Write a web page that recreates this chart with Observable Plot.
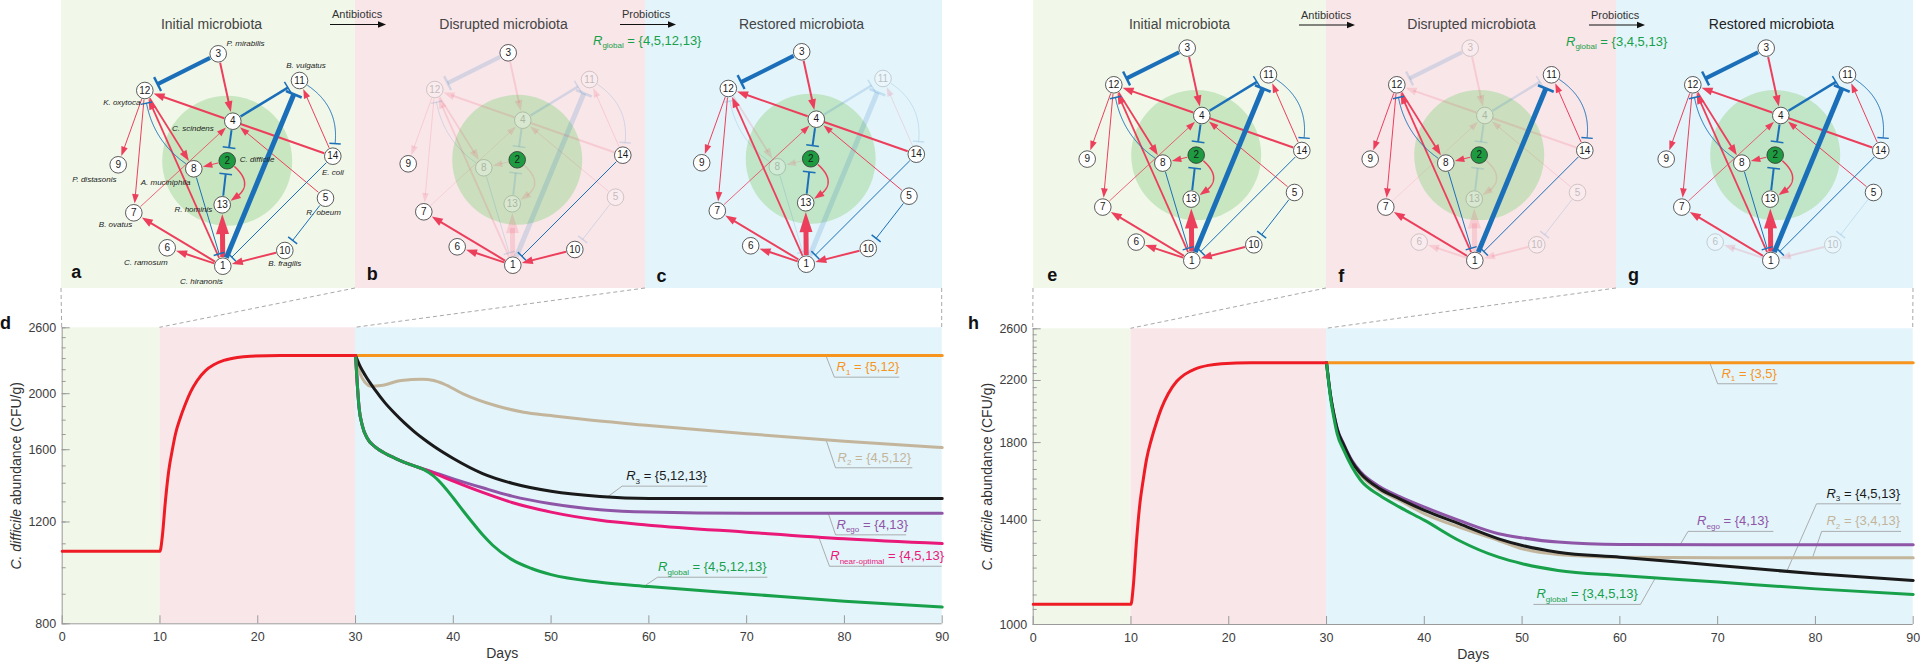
<!DOCTYPE html>
<html>
<head>
<meta charset="utf-8">
<script src="https://cdn.jsdelivr.net/npm/d3@7"></script>
<script src="https://cdn.jsdelivr.net/npm/@observablehq/plot@0.6"></script>
<style>
html,body{margin:0;padding:0;background:#fff;}
#root{position:relative;width:1920px;height:663px;overflow:hidden;}
#root > svg{position:absolute;}
</style>
</head>
<body>
<div id="root"></div>
<script>
// ================= DATA =================
// network nodes (layout coordinates of the interaction network)
const nodeIds = [1,2,3,4,5,6,7,8,9,10,11,12,13,14];
const nodeX   = [161.3,165.7,156.7,171.3,264.0,105.7,72.3,132.3,56.7,223.3,238.0,83.3,160.7,271.3];
const nodeY   = [265.7,160.3,53.3,120.7,197.7,247.3,212.3,168.3,164.3,250.0,80.0,90.0,204.3,155.7];
const speciesNames = ["C. hiranonis","C. difficile","P. mirabilis","C. scindens","R. obeum","C. ramosum",
  "B. ovatus","A. muciniphila","P. distasonis","B. fragilis","B. vulgatus","K. oxytoca","R. hominis","E. coli"];

// network edges
const edgeSource = [3,4,14,12,12,12,1,7,5,14,2,2,1,1,1,10,  3,4,4,13,1,14,8,8,11,5];
const edgeTarget = [4,12,4,9,7,8,12,4,4,11,8,13,13,7,6,1,   12,11,2,2,11,1,1,12,14,10];
const edgeType   = ["promote","promote","plain","promote","promote","promote","promote","promote","promote",
  "promote","promote","promote","promote","promote","promote","promote",
  "inhibit","inhibit","inhibit","inhibit","inhibit","inhibit","inhibit","inhibit","inhibit","inhibit"];
const edgeWeight = [2,2,2,1,1,1.8,1.8,0.8,1,1,1,1.5,5,2,2,2,  4,2.5,2,2,5,1,1,1,1,1];

// scenarios
const panelTitles = ["Initial microbiota","Disrupted microbiota","Restored microbiota"];
const absentLeft  = [[], [4,5,8,11,12,13], [8,11]];
const absentRight = [[], [3,4,5,6,10,13], [6,10]];
const rGlobalLeft = "{4,5,12,13}";
const rGlobalRight = "{3,4,5,13}";

// time course
const xTicks = [0,10,20,30,40,50,60,70,80,90];
const phaseFrom = [0,10,30];
const phaseTo   = [10,30,90];

const dMajor = [800,1200,1600,2000,2600];
const dMinor = d3.range(800,2601,100);
const hMajor = [1000,1400,1800,2200,2600];
const hMinor = d3.range(1000,2601,50);

const redDays = [0,10,10.23,10.56,10.9,11.25,11.59,12.1,12.61,13.12,13.81,14.66,15.5,16.53,17.9,19.26,22.3,30];
const redVals = [1068,1068,1129,1307,1473,1595,1705,1821,1921,2012,2108,2193,2244,2283,2310,2322,2329,2329];

// panel d
const dR1Days = [30,90];
const dR1Vals = [2329,2329];
const dR2Days = [30,30.2,30.5,31,31.6,32.6,34.7,36.8,38,39,41,44.3,47.2,50,53.5,60,70,80,90];
const dR2Vals = [2329,2250,2160,2090,2060,2066,2108,2119,2108,2080,1999,1908,1858,1833,1804,1762,1705,1655,1614];
const dR3Days = [30,30.5,31,32,33,34,35,36,37,38,40,43,46,50,55,60,90];
const dR3Vals = [2329,2225,2150,2030,1930,1850,1780,1720,1668,1622,1545,1455,1400,1356,1328,1318,1317];
const dEgoDays = [30,30.17,30.35,30.7,31.2,32,33,34,35,36,38,40,43,46,50,55,60,70,90];
const dEgoVals = [2329,2090,1900,1760,1675,1618,1578,1548,1522,1500,1462,1425,1375,1330,1290,1260,1248,1242,1242];
const dNearDays = [30,30.17,30.35,30.7,31.2,32,33,34,35,36,38,40,43,46,50,55,60,70,80,90];
const dNearVals = [2329,2090,1900,1760,1675,1618,1578,1548,1522,1500,1458,1412,1350,1297,1248,1208,1185,1152,1122,1101];
const dGlobDays = [30,30.17,30.35,30.7,31.2,32,33,34,35,36,37,38,39,40,41,42,43,44,46,48,50,55,60,70,80,90];
const dGlobVals = [2329,2090,1900,1760,1675,1618,1578,1548,1522,1500,1478,1440,1385,1320,1255,1195,1140,1095,1033,997,973,944,928,901,875,855];

// panel h
const hDays = [30,30.4,30.74,31.09,31.77,32.62,33.47,35.46,37.48,40.03,43.55,47.6,50.02,53.67,60.02,70.05,80.04,90];
const hR1Days = [30,90];
const hR1Vals = [2329,2329];
const hGlobVals = [2329,2084,1954,1852,1755,1662,1595,1517,1461,1400,1312,1243,1217,1191,1172,1147,1122,1102];
const hR3Vals   = [2329,2100,1975,1880,1785,1690,1630,1550,1501,1446,1385,1319,1291,1263,1243,1210,1178,1153];
const hEgoVals  = [2329,2100,1978,1885,1790,1697,1638,1561,1512,1461,1400,1341,1323,1305,1295,1294,1294,1294];
const hR2Vals   = [2329,2098,1970,1875,1778,1685,1622,1542,1493,1430,1370,1312,1277,1254,1243,1241,1241,1241];

// curve labels: text "R|sub|set"
const dLabelText = ["R|1|{5,12}","R|2|{4,5,12}","R|3|{5,12,13}","R|ego|{4,13}","R|near-optimal|{4,5,13}","R|global|{4,5,12,13}"];
const hLabelText = ["R|1|{3,5}","R|3|{4,5,13}","R|ego|{4,13}","R|2|{3,4,13}","R|global|{3,4,5,13}"];

// ================= STYLE / LAYOUT =================
const FONT = "'Liberation Sans', Arial, Helvetica, sans-serif";
const RED = "#ec3f5c", BLUE = "#1b6fb8", NODE_R = 8.3;
const C = {red:"#ee1c25", orange:"#f7941d", beige:"#c3b59b", black:"#1a1a1a", purple:"#8f55a6", pink:"#ea1878", green:"#18a04a"};
const BG = {green:"#f1f8ea", pink:"#f9e6e9", blue:"#e3f4fb"};
const AX = "#9a9a9a";
const curvedEdges = {"2-13": -40, "8-12": -24, "11-14": -32};
const speciesOffsets = { // dx, dy, anchor
  1:[-21.4,15,"middle"], 2:[12.6,-1,"start"], 3:[8.3,-10.6,"start"], 4:[-19,7.6,"end"], 5:[-2,14,"middle"],
  6:[-21.4,14.4,"middle"], 7:[-18.3,12,"middle"], 8:[-3.3,13.4,"end"], 9:[-1.7,14.7,"end"], 10:[0,13.3,"middle"],
  11:[6.5,-15,"middle"], 12:[-4.3,11.7,"end"], 13:[-10,5,"end"], 14:[0,16,"middle"]};

const leftPanels = [
  {left:61,  w:294,   dx:0,    dy:0,    bg:BG.green, titleX:150, letter:"a", lx:14.7, lb:277,   tcol:"#444"},
  {left:355, w:290,   dx:-4,   dy:-1,   bg:BG.pink,  titleX:148, letter:"b", lx:16.7, lb:279,   tcol:"#444"},
  {left:645, w:296.7, dx:-0.5, dy:-2,   bg:BG.blue,  titleX:156, letter:"c", lx:16,   lb:281.5, tcol:"#444"}];
const rightPanels = [
  {left:1033, w:293, dx:-3,  dy:-5.7, bg:BG.green, titleX:146, letter:"e", lx:18.7, lb:280,   tcol:"#444"},
  {left:1326, w:290, dx:-13, dy:-5.7, bg:BG.pink,  titleX:145, letter:"f", lx:14.7, lb:281.5, tcol:"#444"},
  {left:1616, w:297, dx:-7,  dy:-5.7, bg:BG.blue,  titleX:155, letter:"g", lx:17,   lb:280,   tcol:"#222"}];

const root = d3.select("#root");
function place(svg, left, top){ svg.style.left = left+"px"; svg.style.top = top+"px"; root.node().appendChild(svg); return svg; }

// ================= NETWORK GEOMETRY =================
function pos(id){ return {x:nodeX[id-1], y:nodeY[id-1]}; }
function curvePts(a,b,bend){
  if(!bend) return [a,b];
  const dx=b.x-a.x, dy=b.y-a.y, L=Math.hypot(dx,dy);
  const cx=(a.x+b.x)/2 - dy/L*bend, cy=(a.y+b.y)/2 + dx/L*bend;
  const pts=[];
  for(let i=0;i<=120;i++){const t=i/120;
    pts.push({x:(1-t)*(1-t)*a.x+2*(1-t)*t*cx+t*t*b.x, y:(1-t)*(1-t)*a.y+2*(1-t)*t*cy+t*t*b.y});}
  return pts;
}
function trimStart(pts,c,r){
  const d=p=>Math.hypot(p.x-c.x,p.y-c.y);
  let i=0; while(i<pts.length && d(pts[i])<r) i++;
  if(i===0) return pts.slice();
  if(i>=pts.length) return [pts[pts.length-1]];
  const p=pts[i-1], q=pts[i], dp=d(p), dq=d(q), t=(r-dp)/(dq-dp);
  return [{x:p.x+(q.x-p.x)*t, y:p.y+(q.y-p.y)*t}, ...pts.slice(i)];
}
function trimEnd(pts,c,r){ return trimStart(pts.slice().reverse(),c,r).reverse(); }
function walkBack(pts,dist){
  let acc=0;
  for(let i=pts.length-1;i>0;i--){
    const seg=Math.hypot(pts[i].x-pts[i-1].x, pts[i].y-pts[i-1].y);
    if(acc+seg>=dist){const t=(dist-acc)/seg; return {x:pts[i].x+(pts[i-1].x-pts[i].x)*t, y:pts[i].y+(pts[i-1].y-pts[i].y)*t};}
    acc+=seg;
  }
  return pts[0];
}
function edgeGeom(k){
  const s=edgeSource[k], t=edgeTarget[k], w=edgeWeight[k], type=edgeType[k];
  const a=pos(s), b=pos(t);
  let pts=trimStart(curvePts(a,b,curvedEdges[s+"-"+t]||0), a, NODE_R+0.8);
  if(type==="promote"){
    const hl = w>=4 ? 20 : 8+1.5*w, hw = w>=4 ? 13 : 5.5+1.2*w;
    const full=trimEnd(pts,b,NODE_R+1), tip=full[full.length-1], back=walkBack(full,hl);
    let ux=tip.x-back.x, uy=tip.y-back.y; const L=Math.hypot(ux,uy); ux/=L; uy/=L;
    const nx=-uy, ny=ux, bx=tip.x-ux*hl, by=tip.y-uy*hl;
    return {shaft:trimEnd(pts,b,NODE_R+1+hl*0.75),
            head:[tip,{x:bx+nx*hw/2,y:by+ny*hw/2},{x:bx-nx*hw/2,y:by-ny*hw/2}]};
  } else if(type==="inhibit"){
    const sh=trimEnd(pts,b,NODE_R+4+0.5*w), E=sh[sh.length-1], back=walkBack(sh,4);
    let ux=E.x-back.x, uy=E.y-back.y; const L=Math.hypot(ux,uy); ux/=L; uy/=L;
    const nx=-uy, ny=ux, tl=10+1.4*w;
    return {shaft:sh, bar:[{x:E.x+nx*tl/2,y:E.y+ny*tl/2},{x:E.x-nx*tl/2,y:E.y-ny*tl/2}],
            barW:Math.min(2.6,Math.max(1.5,w*0.6))};
  }
  return {shaft:trimEnd(pts,b,NODE_R)};
}

function networkPlot(L, title, absentIds, withSpecies){
  const absent=new Set(absentIds), on=id=>!absent.has(id);
  const marks=[];
  marks.push(Plot.dot([pos(2)],{x:"x",y:"y",r:65,fill:"#a6d89c",fillOpacity:0.55,stroke:"none"}));
  const idx=d3.range(edgeSource.length).map(k=>({k,active:on(edgeSource[k])&&on(edgeTarget[k])}));
  idx.sort((p,q)=>(p.active?1:0)-(q.active?1:0));
  for(const {k,active} of idx){
    const g=edgeGeom(k), op=active?1:0.16, col=edgeType[k]==="inhibit"?BLUE:RED;
    marks.push(Plot.line(g.shaft,{x:"x",y:"y",stroke:col,strokeWidth:edgeWeight[k],strokeOpacity:op,strokeLinecap:"butt"}));
    if(g.head) marks.push(Plot.line(g.head,{x:"x",y:"y",fill:col,fillOpacity:op,stroke:"none"}));
    if(g.bar) marks.push(Plot.line(g.bar,{x:"x",y:"y",stroke:col,strokeWidth:g.barW,strokeOpacity:op,strokeLinecap:"butt"}));
  }
  const nodes=nodeIds.map(id=>({id,...pos(id),name:speciesNames[id-1]}));
  const off=nodes.filter(d=>!on(d.id)), onN=nodes.filter(d=>on(d.id));
  marks.push(Plot.dot(off,{x:"x",y:"y",r:NODE_R,fill:"white",stroke:"#333",strokeWidth:0.8,opacity:0.25}));
  marks.push(Plot.text(off,{x:"x",y:"y",text:d=>String(d.id),fontSize:10,fill:"#222",opacity:0.25}));
  marks.push(Plot.dot(onN.filter(d=>d.id!==2),{x:"x",y:"y",r:NODE_R,fill:"white",stroke:"#333",strokeWidth:0.8}));
  marks.push(Plot.dot(onN.filter(d=>d.id===2),{x:"x",y:"y",r:NODE_R,fill:"#1e9a41",stroke:"#333",strokeWidth:0.8}));
  marks.push(Plot.text(onN,{x:"x",y:"y",text:d=>String(d.id),fontSize:10,fill:"#1a1a1a"}));
  if(withSpecies){
    for(const anchor of ["start","middle","end"]){
      const items=nodes.filter(d=>speciesOffsets[d.id][2]===anchor);
      marks.push(Plot.text(items,{x:d=>d.x+speciesOffsets[d.id][0], y:d=>d.y+speciesOffsets[d.id][1], text:"name",
        textAnchor:anchor, fontSize:8, fontStyle:"italic", fill:"#222"}));
    }
  }
  marks.push(Plot.text([title],{frameAnchor:"top-left",dx:L.titleX,dy:28.5,text:d=>d,lineAnchor:"bottom",textAnchor:"middle",fontSize:14,fill:L.tcol}));
  marks.push(Plot.text([L.letter],{frameAnchor:"top-left",dx:L.lx,dy:L.lb,text:d=>d,lineAnchor:"bottom",textAnchor:"middle",fontSize:18,fontWeight:"bold",fill:"#111"}));
  return Plot.plot({width:L.w,height:288,margin:0,
    x:{domain:[0,300],range:[L.dx,300+L.dx],axis:null},
    y:{domain:[0,288],range:[L.dy,288+L.dy],axis:null},
    style:{background:L.bg,fontFamily:FONT,overflow:"visible"}, marks});
}

leftPanels.forEach((L,i)=>place(networkPlot(L,panelTitles[i],absentLeft[i],i===0),L.left,0));
rightPanels.forEach((L,i)=>place(networkPlot(L,panelTitles[i],absentRight[i],false),L.left,0));

// ================= TIME COURSE CHARTS =================
const phaseColors=[BG.green,BG.pink,BG.blue];
function series(days,vals,color){ return {pts:days.map((d,i)=>({d,v:vals[i]})),color}; }
function label(text,color,curveDay,curveVal,elbowDay,lineVal,endDay,textDay){return {text,color,curveDay,curveVal,elbowDay,lineVal,endDay,textDay};}

function richText(svg){
  d3.select(svg).selectAll("text").each(function(){
    const el=d3.select(this), t=this.textContent;
    if(t.includes("|")){
      const [a,b,c]=t.split("|"); el.text(null);
      el.append("tspan").attr("font-style","italic").text(a);
      el.append("tspan").attr("font-size","0.62em").attr("dy","3.5").text(b);
      el.append("tspan").attr("dy","-3.5").text(" = "+c);
    } else if(t.startsWith("*")){
      const m=t.match(/^\*(.+?)\*(.*)$/); el.text(null);
      el.append("tspan").attr("font-style","italic").text(m[1]);
      el.append("tspan").text(m[2]);
    }
  });
}

function chartPlot(cfg){
  const W=960,H=383, plotW=W-cfg.ml-cfg.mr, plotH=H-cfg.mt-cfg.mb, [y0,y1]=cfg.yDomain;
  const marks=[];
  phaseFrom.forEach((f,i)=>marks.push(Plot.rect([{f,t:phaseTo[i]}],{x1:"f",x2:"t",y1:y0,y2:y1,fill:phaseColors[i]})));
  marks.push(Plot.tickY(cfg.minor,{y:d=>d,stroke:AX,strokeWidth:1,insetRight:plotW-4}));
  marks.push(Plot.tickY(cfg.major,{y:d=>d,stroke:AX,strokeWidth:1,insetRight:plotW-8}));
  marks.push(Plot.tickX(xTicks,{x:d=>d,stroke:AX,strokeWidth:1,insetTop:plotH-8}));
  marks.push(Plot.ruleX([0],{stroke:AX,strokeWidth:1}));
  marks.push(Plot.ruleY([y0],{stroke:AX,strokeWidth:1}));
  marks.push(Plot.text(xTicks,{x:d=>d,y:y0,dy:13.5,text:d=>String(d),fontSize:12.5,fill:"#3d3d3d"}));
  marks.push(Plot.text(cfg.major,{x:0,y:d=>d,dx:-6,textAnchor:"end",text:d=>String(d),fontSize:12.5,fill:"#3d3d3d"}));
  cfg.labels.forEach(l=>marks.push(Plot.line([{d:l.curveDay,v:l.curveVal},{d:l.elbowDay,v:l.lineVal},{d:l.endDay,v:l.lineVal}],
    {x:"d",y:"v",stroke:"#9a9a9a",strokeWidth:0.8})));
  cfg.series.forEach(s=>marks.push(Plot.line(s.pts,{x:"d",y:"v",stroke:s.color,strokeWidth:3,curve:"monotone-x"})));
  cfg.labels.forEach(l=>marks.push(Plot.text([l],{x:"textDay",y:"lineVal",text:"text",fill:l.color,textAnchor:"start",
    lineAnchor:"bottom",dy:-6,fontSize:13})));
  marks.push(Plot.text(["*C. difficile* abundance (CFU/g)"],{frameAnchor:"left",dx:cfg.ylabDx,rotate:-90,text:d=>d,
    textAnchor:"middle",lineAnchor:"middle",fontSize:14,fill:"#333"}));
  marks.push(Plot.text(["Days"],{frameAnchor:"bottom",dy:29.7,text:d=>d,textAnchor:"middle",lineAnchor:"middle",fontSize:14,fill:"#333"}));
  const svg=Plot.plot({width:W,height:H,marginLeft:cfg.ml,marginRight:cfg.mr,marginTop:cfg.mt,marginBottom:cfg.mb,
    x:{domain:[0,90],axis:null}, y:{type:"log",domain:cfg.yDomain,axis:null},
    style:{background:"transparent",fontFamily:FONT,overflow:"visible"}, marks});
  richText(svg);
  return svg;
}

const chartD = chartPlot({ml:61.7,mr:18.3,mt:47.3,mb:39.7,yDomain:[800,2600],major:dMajor,minor:dMinor,ylabDx:-45.7,
  series:[series(dR1Days,dR1Vals,C.orange),series(dR2Days,dR2Vals,C.beige),series(dR3Days,dR3Vals,C.black),
    series(dEgoDays,dEgoVals,C.purple),series(dNearDays,dNearVals,C.pink),series(dGlobDays,dGlobVals,C.green),
    series(redDays,redVals,C.red)],
  labels:[label(dLabelText[0],C.orange,78.1,2329,78.97,2136,85.57,79.2),
    label(dLabelText[1],C.beige,78.13,1663,79.09,1489,86.9,79.3),
    label(dLabelText[2],C.black,55.8,1327,57.26,1384,65.94,57.68),
    label(dLabelText[3],C.purple,78.35,1242,79.1,1140,86.27,79.19),
    label(dLabelText[4],C.pink,77.39,1128,78.47,1006,89.9,78.55),
    label(dLabelText[5],C.green,59.55,930,60.89,963,72.08,60.94)]});
place(chartD,0,280);

const chartH = chartPlot({ml:72.7,mr:7.3,mt:48.3,mb:39,yDomain:[1000,2600],major:hMajor,minor:hMinor,ylabDx:-46,
  series:[series(hR1Days,hR1Vals,C.orange),series(hDays,hR2Vals,C.beige),series(hDays,hEgoVals,C.purple),
    series(hDays,hR3Vals,C.black),series(hDays,hGlobVals,C.green),series(redDays,redVals,C.red)],
  labels:[label(hLabelText[0],C.orange,69.2,2329,70.0,2177,76.07,70.39),
    label(hLabelText[1],C.black,77.08,1188,80.11,1477,88.72,81.13),
    label(hLabelText[2],C.purple,66.16,1294,66.97,1351,75.66,67.9),
    label(hLabelText[3],C.beige,79.7,1241,80.64,1351,88.72,81.13),
    label(hLabelText[4],C.green,63.64,1163,62.11,1067,51.2,51.47)]});
place(chartH,960,280);

// ================= OVERLAY (connectors, transitions) =================
const ov = root.append("svg").attr("width",1920).attr("height",663).style("left","0px").style("top","0px")
  .style("pointer-events","none").style("font-family",FONT);
function connectors(panels, chart, chartLeft, chartTop){
  const xs=[0,10,30,90].map(d=>chart.scale("x").apply(d)+chartLeft);
  const px=[panels[0].left, panels[1].left, panels[2].left, panels[2].left+panels[2].w];
  px.forEach((x,i)=>ov.append("line").attr("x1",x).attr("y1",288).attr("x2",xs[i]).attr("y2",chartTop)
    .attr("stroke","#a8a8a8").attr("stroke-width",1).attr("stroke-dasharray","4,3"));
}
connectors(leftPanels, chartD, 0, 280+47.3);
connectors(rightPanels, chartH, 960, 280+48.3);

function transition(x1,x2,y,text){
  ov.append("text").attr("x",x1+2).attr("y",y-6.5).attr("font-size",11).attr("fill","#333").text(text);
  ov.append("line").attr("x1",x1).attr("x2",x2-6).attr("y1",y).attr("y2",y).attr("stroke","#111").attr("stroke-width",1);
  ov.append("path").attr("d",`M${x2},${y}L${x2-8},${y-3.2}L${x2-8},${y+3.2}Z`).attr("fill","#111");
}
transition(330,386,24.5,"Antibiotics");
transition(620,676,24.5,"Probiotics");
transition(1299,1355,25,"Antibiotics");
transition(1589,1645,25,"Probiotics");

function rglobal(x,y,set){
  const t=ov.append("text").attr("x",x).attr("y",y).attr("font-size",13).attr("fill",C.green);
  t.append("tspan").attr("font-style","italic").text("R");
  t.append("tspan").attr("font-size",8).attr("dy",3.5).text("global");
  t.append("tspan").attr("dy",-3.5).text(" = "+set);
}
rglobal(593,44.7,rGlobalLeft);
rglobal(1566,45.5,rGlobalRight);

ov.append("text").attr("x",0).attr("y",328.5).attr("font-size",18).attr("font-weight","bold").attr("fill","#111").text("d");
ov.append("text").attr("x",968).attr("y",328.5).attr("font-size",18).attr("font-weight","bold").attr("fill","#111").text("h");
</script>
</body>
</html>
